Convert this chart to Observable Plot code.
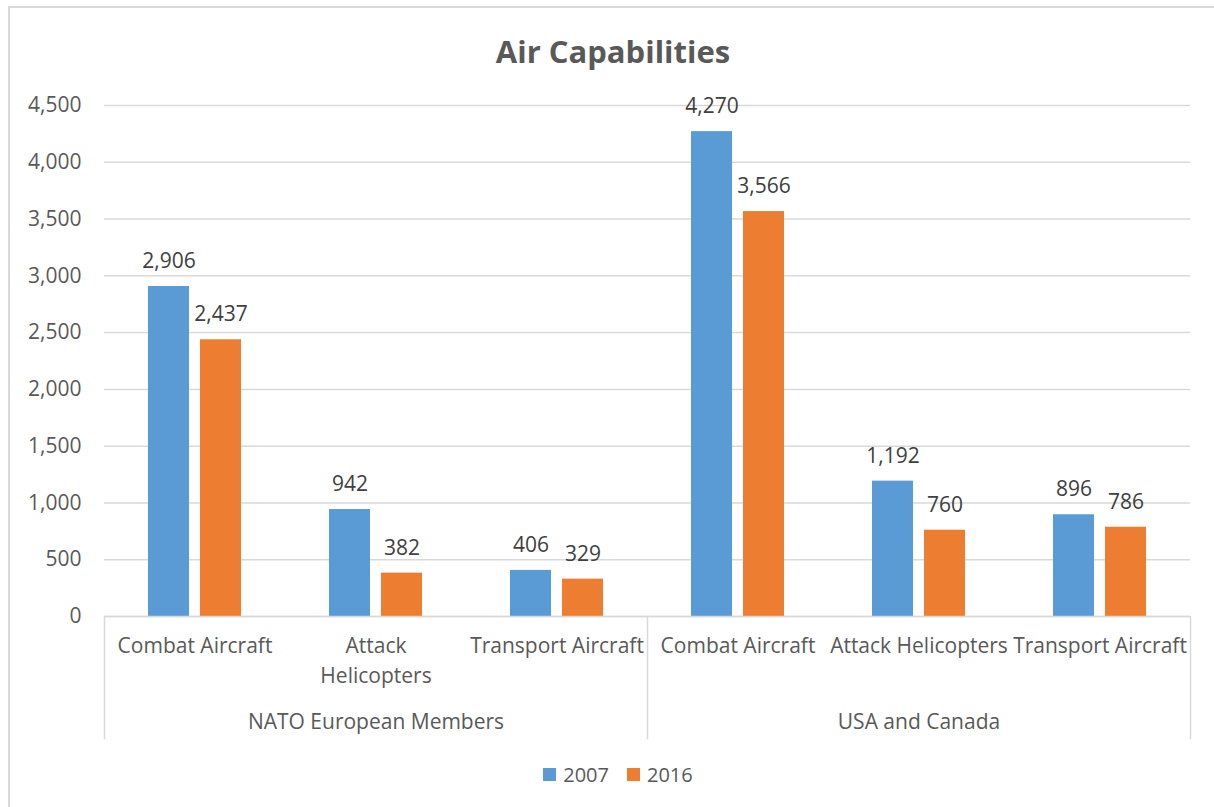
<!DOCTYPE html>
<html>
<head>
<meta charset="utf-8">
<script src="https://cdn.jsdelivr.net/npm/d3@7"></script>
<script src="https://cdn.jsdelivr.net/npm/@observablehq/plot@0.6"></script>
<style>
  html, body { margin: 0; padding: 0; background: #fff; overflow: hidden; }
  body { width: 1214px; height: 807px; position: relative; font-family: "Open Sans", sans-serif; }
  #border { position: absolute; left: 8px; top: 6px; width: 1206px; height: 801px; border-left: 2px solid #d9d9d9; border-top: 2px solid #d9d9d9; box-sizing: border-box; }
  #title { position: absolute; left: 13px; width: 1200px; top: 35px; height: 32px; line-height: 32px; text-align: center; font-weight: 700; font-size: 31px; color: #595959; }
  #chart { position: absolute; left: 0; top: 80px; }
  #legend { position: absolute; left: 18px; width: 1200px; top: 760px; height: 28px; display: flex; justify-content: center; align-items: center; font-size: 20px; color: #595959; }
  .sw { display: inline-block; width: 13px; height: 13px; margin-right: 7px; }
  .item { display: inline-flex; align-items: center; margin: 0 9px; }
</style>
</head>
<body>
<div id="border"></div>
<div id="title">Air Capabilities</div>
<div id="chart"></div>
<div id="legend"></div>
<script>
const regions = ["NATO European Members", "NATO European Members", "NATO European Members", "USA and Canada", "USA and Canada", "USA and Canada"];
const categories = ["Combat Aircraft", "Attack\nHelicopters", "Transport Aircraft", "Combat Aircraft", "Attack Helicopters", "Transport Aircraft"];
const years = ["2007", "2016"];
const values2007 = [2906, 942, 406, 4270, 1192, 896];
const values2016 = [2437, 382, 329, 3566, 760, 786];
const yTicks = [0, 500, 1000, 1500, 2000, 2500, 3000, 3500, 4000, 4500];
const colors = ["#5b9bd5", "#ed7d31"];

const keys = categories.map((c, i) => i + "|" + c);
const rows = [];
keys.forEach((k, i) => {
  rows.push({key: k, year: years[0], value: values2007[i]});
  rows.push({key: k, year: years[1], value: values2016[i]});
});
const catRows = keys.map((k, i) => ({key: k, label: categories[i]}));
const groupNames = Array.from(new Set(regions));
const groupRows = groupNames.map(g => {
  const idx = regions.map((r, i) => r === g ? i : -1).filter(i => i >= 0);
  return {key: keys[idx[Math.floor(idx.length / 2)]], label: g};
});
const leftSepKeys = groupNames.map(g => keys[regions.indexOf(g)]);
const rightSepKey = keys[keys.length - 1];

const fmt = d3.format(",");
const sepStyle = {stroke: "#d9d9d9", strokeWidth: 1.5, insetTop: 511, insetBottom: -122};

const chart = Plot.plot({
  width: 1214,
  height: 680,
  marginLeft: 103,
  marginRight: 24,
  marginTop: 25,
  marginBottom: 144,
  style: {fontFamily: "Open Sans", fontSize: "21px", color: "#595959", background: "transparent", overflow: "visible"},
  fx: {domain: keys, padding: 0, axis: null},
  x: {domain: years, paddingInner: 0.2115, paddingOuter: 0.846, axis: null},
  y: {domain: [0, 4500], axis: null},
  color: {domain: years, range: colors},
  marks: [
    Plot.gridY(yTicks, {stroke: "#d9d9d9", strokeOpacity: 1, strokeWidth: 1.5}),
    Plot.axisY(yTicks, {tickSize: 0, tickPadding: 23, tickFormat: fmt, fontSize: 21, fill: "#595959", label: null}),
    Plot.barY(rows, {fx: "key", x: "year", y: "value", fill: "year"}),
    Plot.text(rows, {fx: "key", x: "year", y: "value", text: d => fmt(d.value), dy: -25, fill: "#404040", fontSize: 21, lineAnchor: "middle"}),
    Plot.text(catRows, {fx: "key", text: "label", frameAnchor: "bottom", lineAnchor: "top", dy: 15, lineHeight: 1.43, fill: "#595959", fontSize: 21}),
    Plot.text(groupRows, {fx: "key", text: "label", frameAnchor: "bottom", lineAnchor: "middle", dy: 106, fill: "#595959", fontSize: 21}),
    ...leftSepKeys.map(k => Plot.frame({fx: () => k, anchor: "left", ...sepStyle})),
    Plot.frame({fx: () => rightSepKey, anchor: "right", ...sepStyle}),
    Plot.ruleY([0], {stroke: "#d9d9d9", strokeWidth: 1.5})
  ]
});
document.getElementById("chart").appendChild(chart);

const legend = document.getElementById("legend");
years.forEach((y, i) => {
  const item = document.createElement("span");
  item.className = "item";
  const sw = document.createElement("span");
  sw.className = "sw";
  sw.style.background = colors[i];
  item.appendChild(sw);
  item.appendChild(document.createTextNode(y));
  legend.appendChild(item);
});
</script>
</body>
</html>
